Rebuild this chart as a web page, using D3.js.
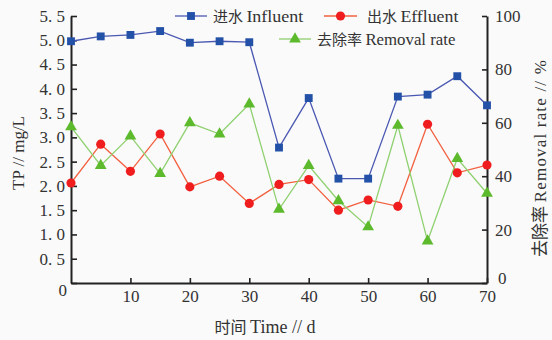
<!DOCTYPE html>
<html>
<head>
<meta charset="utf-8">
<script src="https://cdn.jsdelivr.net/npm/d3@7"></script>
<style>
  body { margin: 0; background: #fafafa; }
  svg { display: block; }
</style>
</head>
<body>
<div id="chart"></div>
<script>
// data
const days = [0, 5, 10, 15, 20, 25, 30, 35, 40, 45, 50, 55, 60, 65, 70]
const influent = [4.98, 5.08, 5.11, 5.19, 4.95, 4.98, 4.96, 2.79, 3.81, 2.15, 2.15, 3.84, 3.88, 4.26, 3.66]
const effluent = [2.06, 2.86, 2.30, 3.07, 1.98, 2.20, 1.64, 2.03, 2.13, 1.50, 1.71, 1.58, 3.27, 2.27, 2.43]
const removal = [58.5, 44, 55, 41, 60, 55.8, 67, 27.6, 44, 30.8, 21, 59, 15.7, 46.6, 33.6]

const xTicks = [10, 20, 30, 40, 50, 60, 70]
const yLeftTicks = [0, 0.5, 1, 1.5, 2, 2.5, 3, 3.5, 4, 4.5, 5, 5.5]
const yRightTicks = [0, 20, 40, 60, 80, 100]

const width = 552, height = 340
const margin = { top: 16, right: 65, bottom: 57, left: 71 }

const svg = d3.select("#chart").append("svg")
  .attr("width", width)
  .attr("height", height)

const x = d3.scaleLinear().domain([0, 70]).range([margin.left, width - margin.right])
const yL = d3.scaleLinear().domain([0, 5.5]).range([height - margin.bottom, margin.top])
const yR = d3.scaleLinear().domain([0, 100]).range([height - margin.bottom, margin.top])

const serif = "'Liberation Serif', 'Times New Roman', serif"
const cjk = "'Noto Sans CJK SC', sans-serif"

const styleAxis = (g) => {
  g.attr("font-family", null).attr("font-size", null)
  g.select(".domain").attr("stroke", "#222").attr("stroke-width", 2)
  g.selectAll(".tick line").attr("stroke", "#222").attr("stroke-width", 1.6)
  g.selectAll(".tick text")
    .style("font-family", serif)
    .style("font-size", "17px")
    .attr("fill", "#333")
}

// axes
const fmtL = d => d === 0 ? "0" : d3.format(".1f")(d).replace(".", ". ")

const gx = svg.append("g")
  .attr("transform", `translate(0,${height - margin.bottom})`)
  .call(d3.axisBottom(x).tickValues(xTicks).tickSize(-5).tickSizeOuter(0).tickPadding(7))
styleAxis(gx)

const gl = svg.append("g")
  .attr("transform", `translate(${margin.left},0)`)
  .call(d3.axisLeft(yL).tickValues(yLeftTicks).tickFormat(fmtL).tickSize(-6).tickSizeOuter(0).tickPadding(6))
styleAxis(gl)
gl.selectAll(".tick text").filter(d => d === 0).attr("dy", "0.75em").attr("x", -4)

const gr = svg.append("g")
  .attr("transform", `translate(${width - margin.right},0)`)
  .call(d3.axisRight(yR).tickValues(yRightTicks).tickSize(-5).tickSizeOuter(0).tickPadding(8))
styleAxis(gr)
gr.selectAll(".tick text").filter(d => d === 0).attr("dy", "0.05em").attr("x", 11)

// axis titles
svg.append("text")
  .attr("transform", `translate(18,${153}) rotate(-90)`)
  .attr("text-anchor", "middle")
  .attr("dy", "0.35em")
  .style("font-family", serif)
  .style("font-size", "17px")
  .attr("fill", "#333")
  .text("TP // mg/L")

const xt = svg.append("text")
  .attr("x", 265).attr("y", 327)
  .attr("text-anchor", "middle")
  .attr("dy", "0.35em")
  .attr("fill", "#333")
xt.append("tspan").style("font-family", cjk).style("font-size", "16px").text("时间 ")
xt.append("tspan").style("font-family", serif).style("font-size", "18px").text("Time // d")

const rt = svg.append("text")
  .attr("transform", `translate(540,257) rotate(-90)`)
  .attr("dy", "0.35em")
  .attr("fill", "#333")
rt.append("tspan").style("font-family", cjk).style("font-size", "17px").text("去除率 ")
rt.append("tspan").style("font-family", serif).style("font-size", "17px")
  .attr("textLength", 142).attr("lengthAdjust", "spacing").text("Removal rate // %")

// series
const series = [
  { name: "进水", label: "Influent", values: influent, y: yL, line: "#4a58b2", fill: "#2451a8", shape: d3.symbolSquare, size: 62 },
  { name: "出水", label: "Effluent", values: effluent, y: yL, line: "#f2603f", fill: "#ef1d1d", shape: d3.symbolCircle, size: 66 },
  { name: "去除率", label: "Removal rate", values: removal, y: yR, line: "#8fd070", fill: "#5cba2c", shape: d3.symbolTriangle, size: 60 }
]

series.forEach(s => {
  const line = d3.line().x((d, i) => x(days[i])).y(d => s.y(d))
  svg.append("path")
    .datum(s.values)
    .attr("d", line)
    .attr("fill", "none")
    .attr("stroke", s.line)
    .attr("stroke-width", 1.3)
})

series.forEach(s => {
  svg.append("g").selectAll("path")
    .data(s.values)
    .enter()
    .append("path")
    .attr("d", d3.symbol().type(s.shape).size(s.size))
    .attr("transform", (d, i) => `translate(${x(days[i])},${s.y(d)})`)
    .attr("fill", s.fill)
})

// legend
const legendPos = [
  { x0: 175, x1: 207, tx: 213, y: 16, w: 57 },
  { x0: 324, x1: 357, tx: 367, y: 16, w: 58 },
  { x0: 279, x1: 311, tx: 317, y: 39, w: 90 }
]

series.forEach((s, i) => {
  const p = legendPos[i]
  const g = svg.append("g")
  g.append("line")
    .attr("x1", p.x0).attr("x2", p.x1)
    .attr("y1", p.y).attr("y2", p.y)
    .attr("stroke", s.line).attr("stroke-width", 1.3)
  g.append("path")
    .attr("d", d3.symbol().type(s.shape).size(s.size))
    .attr("transform", `translate(${(p.x0 + p.x1) / 2},${p.y})`)
    .attr("fill", s.fill)
  const t = g.append("text")
    .attr("x", p.tx).attr("y", p.y)
    .attr("dy", "0.35em")
    .attr("fill", "#333")
  t.append("tspan").style("font-family", cjk).style("font-size", "15px").text(s.name + " ")
  t.append("tspan").style("font-family", serif).style("font-size", "17px")
    .attr("textLength", p.w).attr("lengthAdjust", "spacingAndGlyphs").text(s.label)
})
</script>
</body>
</html>
